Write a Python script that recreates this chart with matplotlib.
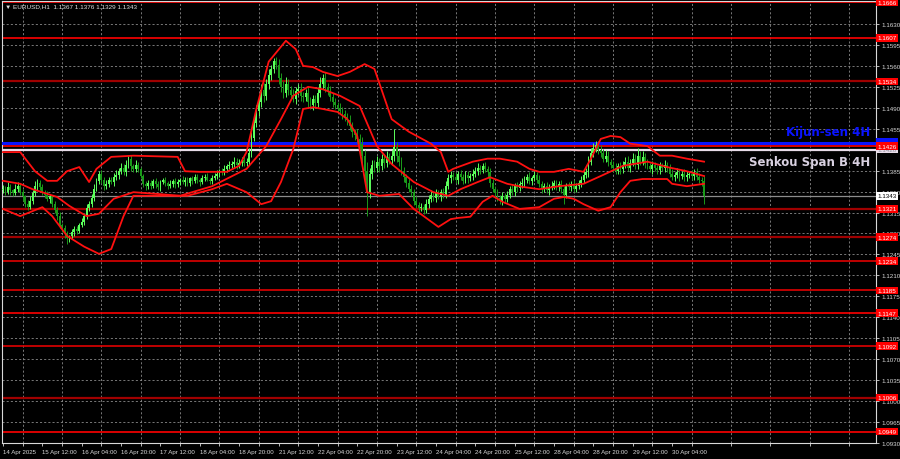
import matplotlib
matplotlib.use('Agg')
import matplotlib.pyplot as plt
import matplotlib.transforms as mtransforms
from matplotlib.ticker import FixedLocator

# ---------------- data (pips relative to BASE) ----------------
BASE = 1.1300
PIP = 0.0001
OPEN0 = 52

closes_pips = [
    55, 50, 58, 52, 48, 55, 60, 50, 42, 30,
    25, 35, 48, 60, 65, 58, 50,
    45, 38, 42, 30, 20, 10,
    -5, -10, -20, -28, -25, -18, -12, -15,
    -5, 0, 10, 22, 30, 40, 55, 68,
    80, 70, 60, 62, 70, 66,
    75, 78, 85, 90, 82, 95, 105, 92,
    88, 95, 88, 76, 62, 60,
    65, 60, 68, 62, 58, 66, 70, 64, 60, 63, 68, 62, 66, 70,
    66, 70, 64, 72, 68, 74, 70, 66, 72, 75, 70, 68, 73,
    76, 80, 84, 82, 88, 92, 95,
    96, 100, 94, 98, 102, 97, 100,
    115, 140, 165, 185, 200, 220,
    210, 230, 245, 255, 268, 262,
    240, 225, 215, 230, 220,
    212, 205, 218, 222, 210, 208, 215,
    200, 195, 205, 198,
    215, 230, 240, 225, 218,
    208, 200, 195, 190, 185, 180, 175,
    170, 160, 150, 145, 138, 130,
    110, 85, 50,
    80, 95, 90,
    100, 92, 105, 98,
    108, 102, 110, 125, 110,
    100, 85, 75, 65, 55, 50,
    35, 28, 22, 25, 20,
    30, 38, 45, 40, 48, 42, 50, 45,
    60, 72, 78, 75, 70, 80, 74, 68, 78, 72, 76,
    80, 85, 90, 86, 92, 88, 82,
    65, 55, 48, 40, 35, 42, 38,
    45, 55, 50, 60, 56, 62, 65, 70, 75, 68, 72, 78, 70,
    62, 55, 60, 52, 58, 60, 65, 58, 62,
    55, 45, 60, 58, 62, 55, 60, 64,
    70, 78, 82, 100, 115, 122, 128, 120,
    115, 105, 110, 100, 95, 90, 85, 92, 88,
    95, 100, 90, 98, 105, 95, 110, 100, 108, 96,
    92, 88, 94, 90, 86, 92, 89, 95, 90,
    80, 75, 78, 82, 76, 80, 74, 78, 80, 76, 82, 75, 70, 67,
    43,
]

upper_wick = [
    6, 4, 8, 5, 3, 7, 6, 4, 5, 3, 6, 8, 5, 7, 6, 4, 5, 3, 6, 4,
    3, 5, 4, 6, 3, 5, 4, 3, 6, 4, 5, 3, 6, 4, 7, 5, 6, 8, 5, 4,
    6, 5, 7, 4, 5, 6, 8, 5, 7, 6, 8, 5, 6, 4, 7, 5, 3, 4, 6, 5,
    4, 3, 5, 6, 4, 3, 5, 4, 6, 3, 4, 5, 3, 6, 4, 5, 3, 4, 6, 5,
    3, 5, 4, 6, 3, 4, 5, 6, 4, 5, 7, 4, 6, 5, 8, 6, 7, 5, 9, 6,
    8, 10, 7, 9, 8, 10, 12, 8, 9, 7, 6, 7, 10, 8, 9, 12, 8, 6, 9, 7,
    8, 10, 6, 7, 9, 8, 6, 7, 10, 12, 6, 9, 7, 8, 6, 7, 5, 8, 6, 7,
    6, 8, 7, 5, 9, 8, 12, 10, 15, 9, 8, 7, 9, 6, 8, 7, 9, 6, 10, 30,
    8, 9, 7, 6, 5, 8, 6, 5, 7, 4, 6, 5, 8, 6, 7, 5, 6, 4, 5, 6,
    8, 7, 6, 5, 7, 4, 6, 5, 7, 6, 5, 7, 6, 8, 5, 6, 7, 5, 8, 6,
    5, 6, 4, 7, 5, 6, 5, 7, 4, 6, 5, 7, 6, 5, 8, 4, 6, 5, 7, 5,
    4, 6, 5, 7, 4, 5, 6, 8, 5, 4, 6, 5, 7, 4, 5, 6, 8, 7, 9, 8,
    10, 7, 6, 8, 6, 9, 7, 5, 6, 8, 5, 7, 6, 8, 9, 7, 10, 8, 12, 7,
    9, 6, 8, 5, 7, 6, 5, 7, 6, 8, 5, 6, 8, 5, 7, 6, 5, 7, 6, 5,
    6, 5, 7, 6, 5, 9,
]

lower_wick = [
    5, 6, 4, 7, 5, 4, 6, 5, 7, 6, 5, 4, 6, 5, 7, 6, 5, 6, 4, 7,
    6, 5, 8, 6, 7, 8, 10, 6, 5, 7, 6, 5, 4, 6, 5, 4, 6, 5, 4, 6,
    5, 7, 6, 5, 4, 6, 5, 7, 5, 4, 6, 5, 7, 6, 5, 6, 4, 5, 7, 6,
    5, 4, 6, 5, 7, 4, 5, 6, 4, 5, 6, 4, 5, 3, 6, 4, 5, 6, 4, 5,
    6, 4, 5, 3, 6, 5, 4, 5, 6, 4, 5, 6, 4, 5, 6, 7, 5, 6, 4, 5,
    6, 8, 5, 7, 9, 8, 10, 7, 8, 9, 7, 8, 10, 9, 8, 7, 9, 8, 6, 9,
    7, 8, 9, 6, 8, 7, 9, 8, 6, 7, 8, 9, 7, 6, 8, 7, 9, 6, 8, 7,
    8, 7, 9, 8, 6, 10, 12, 15, 40, 10, 9, 8, 7, 9, 6, 8, 7, 6, 8, 9,
    10, 8, 7, 9, 8, 6, 7, 8, 6, 9, 5, 8, 6, 7, 5, 6, 8, 5, 7, 6,
    5, 6, 7, 5, 6, 8, 5, 6, 4, 7, 5, 6, 5, 7, 6, 5, 6, 8, 7, 6,
    8, 6, 5, 7, 6, 5, 6, 5, 7, 6, 5, 6, 7, 5, 6, 7, 5, 6, 5, 7,
    6, 5, 7, 6, 5, 6, 7, 8, 15, 6, 5, 7, 6, 5, 6, 7, 5, 6, 8, 6,
    7, 6, 8, 7, 6, 5, 8, 6, 7, 5, 6, 8, 7, 6, 5, 7, 6, 8, 7, 6,
    6, 7, 5, 6, 8, 5, 7, 6, 5, 7, 8, 6, 5, 7, 6, 8, 5, 6, 7, 6,
    7, 6, 5, 6, 7, 14,
]

# Bollinger-style bands (bar index, price)
band_upper_idx = [0, 7, 13, 18, 22, 26, 31, 35, 38, 44, 53, 71, 74, 80, 91, 96, 99, 103, 108, 115,
                  119, 122, 126, 130, 136, 141, 147, 151, 158, 165, 174, 178, 181, 183, 191, 197,
                  202, 209, 214, 218, 224, 230, 236, 239, 243, 247, 251, 255, 262, 267, 272, 278, 285]
band_upper = [1.1416, 1.1416, 1.1384, 1.1368, 1.1368, 1.1384, 1.1391, 1.1366, 1.1388, 1.1408,
              1.1410, 1.1408, 1.1384, 1.1383, 1.1383, 1.1393, 1.1416, 1.1488, 1.1567, 1.1602,
              1.1588, 1.1560, 1.1558, 1.1550, 1.1543, 1.1550, 1.1563, 1.1555, 1.1471, 1.1450,
              1.1430, 1.1416, 1.1383, 1.1388, 1.1400, 1.1405, 1.1405, 1.1400, 1.1388, 1.1383,
              1.1383, 1.1388, 1.1383, 1.1405, 1.1438, 1.1443, 1.1441, 1.1430, 1.1426, 1.1410,
              1.1410, 1.1405, 1.1400]

band_mid_idx = [0, 7, 12, 22, 27, 34, 39, 45, 53, 63, 72, 85, 99, 107, 113, 118, 124, 130, 137, 145,
                152, 158, 167, 175, 181, 186, 193, 198, 205, 211, 218, 226, 236, 243, 252, 262,
                270, 278, 285]
band_mid = [1.1368, 1.1363, 1.1354, 1.1341, 1.1326, 1.1309, 1.1313, 1.1338, 1.1349, 1.1346,
            1.1343, 1.1359, 1.1388, 1.1426, 1.1471, 1.1510, 1.1525, 1.1521, 1.1510, 1.1493,
            1.1426, 1.1396, 1.1366, 1.1349, 1.1343, 1.1354, 1.1366, 1.1374, 1.1363, 1.1358,
            1.1354, 1.1359, 1.1363, 1.1376, 1.1393, 1.1400, 1.1391, 1.1384, 1.1376]

band_low_idx = [0, 7, 16, 20, 26, 33, 39, 44, 49, 53, 64, 75, 85, 91, 99, 105, 109, 113, 118, 122,
                126, 130, 136, 140, 144, 148, 153, 161, 167, 177, 182, 185, 190, 195, 199, 203,
                210, 218, 224, 228, 232, 236, 242, 247, 251, 255, 260, 270, 272, 278, 285]
band_low = [1.1321, 1.1309, 1.1324, 1.1309, 1.1276, 1.1258, 1.1246, 1.1254, 1.1309, 1.1343,
            1.1343, 1.1343, 1.1354, 1.1363, 1.1349, 1.1329, 1.1334, 1.1366, 1.1421, 1.1488,
            1.1491, 1.1488, 1.1483, 1.1471, 1.1443, 1.1349, 1.1343, 1.1346, 1.1321, 1.1291,
            1.1304, 1.1306, 1.1308, 1.1333, 1.1343, 1.1333, 1.1321, 1.1324, 1.1338, 1.1341,
            1.1338, 1.1329, 1.1318, 1.1324, 1.1349, 1.1368, 1.1371, 1.1371, 1.1363, 1.1359,
            1.1363]

levels = [1.1666, 1.1607, 1.1534, 1.1426, 1.1321, 1.1274, 1.1234, 1.1185, 1.1147, 1.1092, 1.1006, 1.0949]
level_colors = ['#ff0000', '#ff0000', '#a00000', '#ff0000', '#a00000', '#a00000',
                '#e00000', '#e00000', '#ff0000', '#e00000', '#a00000', '#ff0000']
kijun = 1.1432
senkou_b = 1.1420
bid = 1.1343

x_tick_labels = ["14 Apr 2025", "15 Apr 12:00", "16 Apr 04:00", "16 Apr 20:00", "17 Apr 12:00",
                 "18 Apr 04:00", "18 Apr 20:00", "21 Apr 12:00", "22 Apr 04:00", "22 Apr 20:00",
                 "23 Apr 12:00", "24 Apr 04:00", "24 Apr 20:00", "25 Apr 12:00", "28 Apr 04:00",
                 "28 Apr 20:00", "29 Apr 12:00", "30 Apr 04:00"]
BARS_PER_LABEL = 16
price_ticks = [1.1630, 1.1595, 1.1560, 1.1525, 1.1490, 1.1455, 1.1420, 1.1385, 1.1350, 1.1315,
               1.1280, 1.1245, 1.1210, 1.1175, 1.1140, 1.1105, 1.1070, 1.1035, 1.1000, 1.0965, 1.0930]
title = "\u25bc EURUSD,H1  1.1367 1.1376 1.1329 1.1343"

# ---------------- derived OHLC ----------------
closes = [BASE + c * PIP for c in closes_pips]
opens = [BASE + OPEN0 * PIP] + closes[:-1]
highs = [max(o, c) + u * PIP for o, c, u in zip(opens, closes, upper_wick)]
lows = [min(o, c) - l * PIP for o, c, l in zip(opens, closes, lower_wick)]
idx = list(range(len(closes)))

SMALL = ['Liberation Sans', 'DejaVu Sans']

# ---------------- figure ----------------
W, H = 900, 460
fig = plt.figure(figsize=(W / 100, H / 100), dpi=100, facecolor='black')
ax = fig.add_axes([2 / W, 16 / H, 874 / W, 442 / H], facecolor='black')
ax.set_xlim(-0.41, 354.9)
ax.set_ylim(1.0930, 1.16684)

GRID = '#8a8a8a'
for p in price_ticks:
    ax.axhline(p, color=GRID, lw=0.6, ls=(0, (2.5, 2.5)), zorder=1)
for k in range(0, 23):
    ax.axvline(BARS_PER_LABEL / 2 + BARS_PER_LABEL * k, color=GRID, lw=0.6, ls=(0, (2.5, 2.5)), zorder=1)

for lv, col in zip(levels, level_colors):
    ax.axhline(lv, color=col, lw=1.2 if col != '#a00000' else 1.6, zorder=2)
ax.axhline(kijun, color='#0a14ff', lw=2.2, zorder=3)
ax.axhline(senkou_b, color='#e8dce8', lw=1.6, zorder=3)
ax.axhline(bid, color='#8c8c8c', lw=0.9, zorder=2)

BULL = '#5cff5c'
BEAR = '#1a9a1a'
for i, o, h, l, c in zip(idx, opens, highs, lows, closes):
    col = BULL if c >= o else BEAR
    ax.vlines(i, l, h, color=col, lw=0.7, zorder=4)
    bot = min(o, c)
    ht = max(abs(c - o), 0.00006)
    ax.bar(i, ht, bottom=bot, width=0.75, color=col, lw=0, zorder=5)

for bx, by in ((band_upper_idx, band_upper), (band_mid_idx, band_mid), (band_low_idx, band_low)):
    ax.plot(bx, by, color='#ff1010', lw=1.3, zorder=6, solid_joinstyle='round')

for s in ax.spines.values():
    s.set_color('#d8d8d8')
    s.set_linewidth(0.8)
ax.yaxis.tick_right()
ax.set_yticks(price_ticks)
# the 1.1420 tick label sits under the Senkou Span B value box, which shows the same number
ax.set_yticklabels(["" if abs(p - senkou_b) < 1e-9 else f"{p:.4f}" for p in price_ticks], family=SMALL)
ax.tick_params(axis='y', colors='#d8d8d8', labelsize=4.5, length=2.5, width=0.6, pad=1.2)
ax.set_xticks([BARS_PER_LABEL * k for k in range(len(x_tick_labels))])
ax.set_xticklabels(x_tick_labels, ha='left', family=SMALL)
ax.xaxis.set_minor_locator(FixedLocator([BARS_PER_LABEL / 2 + BARS_PER_LABEL * k for k in range(22)]))
ax.tick_params(axis='x', which='both', colors='#d8d8d8', labelsize=4.4, length=2.5, width=0.6, pad=1.5)
ax.tick_params(axis='x', which='minor', length=2)

trans = mtransforms.blended_transform_factory(ax.transAxes, ax.transData)
def box(val, fc, tc, txt=None):
    ax.text(1.002, val, txt or f"{val:.4f}", transform=trans, fontsize=4.5, color=tc,
            ha='left', va='center', clip_on=False, zorder=10, family=SMALL,
            bbox=dict(boxstyle='square,pad=0.2', fc=fc, ec='none'))

for lv in levels:
    box(lv, '#ff0000', 'white')
box(senkou_b, '#e8dce8', '#9090a0')
box(kijun + 0.0002, '#0a14ff', '#0a14ff')
box(levels[3], '#ff0000', 'white')
box(bid, 'white', 'black')

ax.text(0.993, 1.1451, "Kijun-sen 4H", transform=trans, ha='right', va='center',
        fontsize=8.5, fontweight='bold', color='#0a14ff',
        family=['Liberation Sans Narrow', 'DejaVu Sans'], zorder=9)
ax.text(0.993, 1.1401, "Senkou Span B 4H", transform=trans, ha='right', va='center',
        fontsize=8.5, fontweight='bold', color='#d8d0e0',
        family=['Liberation Sans Narrow', 'DejaVu Sans'], zorder=9)

fig.text(5 / W, 1 - 7 / H, title, fontsize=4.6, color='#e0e0e0', ha='left', va='center', family=SMALL)

fig.savefig('out.png', dpi=100, facecolor='black')
